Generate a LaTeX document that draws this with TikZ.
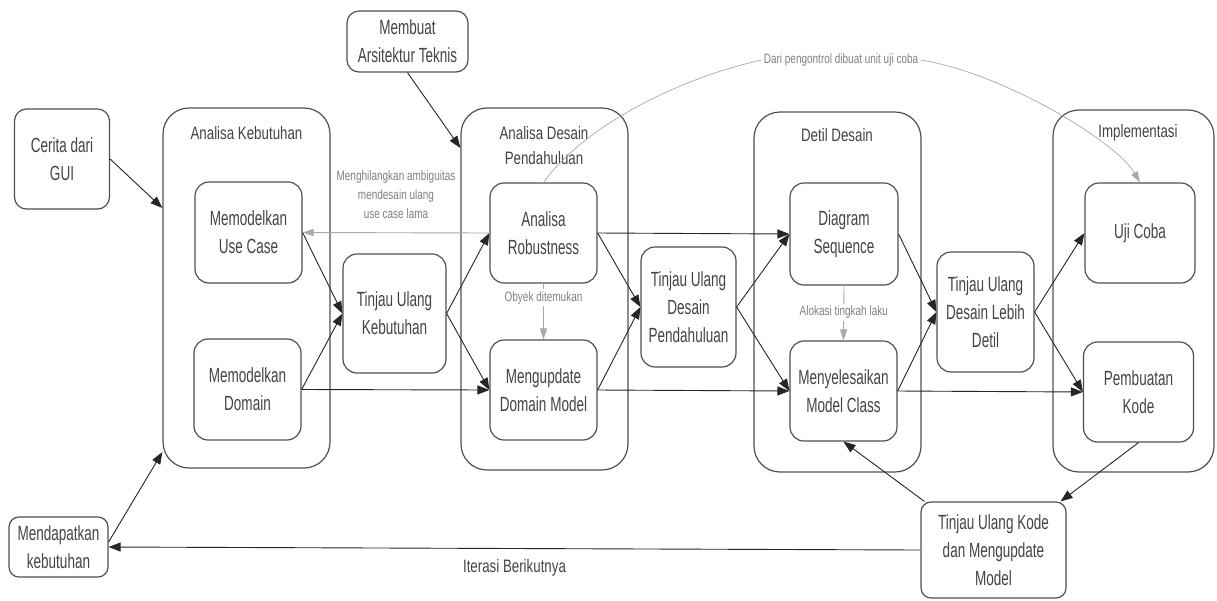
\documentclass[tikz,border=0pt]{standalone}
\usepackage{fontspec}
\setmainfont{Liberation Sans}[FakeStretch=0.74]
\newfontfamily\boxfont{Liberation Sans}[FakeStretch=0.66]
\usetikzlibrary{arrows.meta}
\definecolor{ink}{HTML}{444444}
\definecolor{edge}{HTML}{505050}
\definecolor{soft}{HTML}{A8A8A8}
\begin{document}
\begin{tikzpicture}[x=1pt,y=-1pt,
  every node/.style={text=ink},
  box/.style={draw=edge, line width=1.2pt, rounded corners=14pt, align=center,
    inner sep=0pt, font=\boxfont\fontsize{20.5}{28}\selectfont},
  lane/.style={draw=edge, line width=1.2pt, rounded corners=26pt, inner sep=0pt},
  lanetitle/.style={align=center, font=\fontsize{18}{25}\selectfont},
  flow/.style={-{Triangle[length=12pt,width=9pt]}, line width=0.9pt, draw=black!85},
  hint/.style={-{Triangle[length=11pt,width=7pt]}, line width=0.9pt, draw=soft},
  note/.style={font=\fontsize{13.5}{19}\selectfont, text=gray, align=center, inner sep=2pt},
]
\useasboundingbox (0,0) rectangle (1217,600);
\fill[white] (0,0) rectangle (1217,600);

% swim lanes
\node[lane, minimum width=167, minimum height=360] (AK) at (246.5,288) {};
\node[lane, minimum width=167, minimum height=362] (AD) at (544.5,289) {};
\node[lane, minimum width=167, minimum height=360] (DD) at (837.5,292) {};
\node[lane, minimum width=161, minimum height=362] (IM) at (1133.5,291) {};

\node[lanetitle] (AKt) at (246.5,133) {Analisa Kebutuhan};
\node[lanetitle] (ADt) at (544,146) {Analisa Desain\\Pendahuluan};
\node[lanetitle] (DDt) at (837,135) {Detil Desain};
\node[lanetitle] (IMt) at (1138,133) {Implementasi};

% outside activities
\node[box, rounded corners=12pt, minimum width=121, minimum height=61] (membuat) at (407.5,41.5) {Membuat\\Arsitektur Teknis};
\node[box, rounded corners=12pt, minimum width=95, minimum height=100] (cerita) at (62,159) {Cerita dari\\GUI};
\node[box, rounded corners=10pt, minimum width=99, minimum height=60] (dapat) at (58.5,547) {Mendapatkan\\kebutuhan};
\node[box, rounded corners=10pt, minimum width=145, minimum height=96] (tkode) at (993.5,550) {Tinjau Ulang Kode\\dan Mengupdate\\Model};

% activities inside the lanes
\node[box, minimum width=107, minimum height=101] (usecase) at (248.5,232.5) {Memodelkan\\Use Case};
\node[box, minimum width=107, minimum height=101] (domain) at (247.5,389.5) {Memodelkan\\Domain};
\node[box, minimum width=103, minimum height=119] (tkeb) at (394.5,313.5) {Tinjau Ulang\\Kebutuhan};
\node[box, minimum width=107, minimum height=100] (robust) at (543.5,233) {Analisa\\Robustness};
\node[box, minimum width=107, minimum height=100] (update) at (543.5,390) {Mengupdate\\Domain Model};
\node[box, minimum width=95, minimum height=120] (tdesain) at (688.5,307) {Tinjau Ulang\\Desain\\Pendahuluan};
\node[box, minimum width=108, minimum height=102] (seq) at (844,234) {Diagram\\Sequence};
\node[box, minimum width=107, minimum height=100] (kelas) at (843.5,391) {Menyelesaikan\\Model Class};
\node[box, minimum width=97, minimum height=120] (tdetil) at (985.5,312) {Tinjau Ulang\\Desain Lebih\\Detil};
\node[box, minimum width=110, minimum height=100] (uji) at (1140,233) {Uji Coba};
\node[box, minimum width=110, minimum height=100] (kode) at (1138.5,392) {Pembuatan\\Kode};

% inputs from outside
\draw[flow] (cerita.east) -- ([yshift=80pt]AK.west);
\draw[flow] (membuat.south) -- ([yshift=141pt]AD.west);
\draw[flow] ([yshift=5pt]dapat.east) -- ([yshift=-164pt]AK.west);

% requirements analysis
\draw[flow] (usecase.east) -- (tkeb.west);
\draw[flow] (domain.east) -- (tkeb.west);
\draw[flow] (tkeb.east) -- (robust.west);
\draw[flow] (tkeb.east) -- (update.west);
\draw[flow] (domain.east) -- (update.west);
\draw[hint] (robust.west) -- node[note, midway, anchor=south, yshift=12pt]
  {Menghilangkan ambiguitas\\mendesain ulang\\use case lama} (usecase.east);

% preliminary design
\draw[hint] (robust.south) -- node[note, fill=white, pos=0.25] {Obyek ditemukan} (update.north);
\draw[flow] (robust.east) -- (seq.west);
\draw[flow] (robust.east) -- (tdesain.west);
\draw[flow] (update.east) -- (tdesain.west);
\draw[flow] (update.east) -- (kelas.west);
\draw[flow] (tdesain.east) -- (seq.west);
\draw[flow] (tdesain.east) -- (kelas.west);

% detailed design
\draw[hint] (seq.south) -- node[note, fill=white, pos=0.49] {Alokasi tingkah laku} (kelas.north);
\draw[flow] (seq.east) -- (tdetil.west);
\draw[flow] (kelas.east) -- (tdetil.west);
\draw[flow] (tdetil.east) -- (uji.west);
\draw[flow] (tdetil.east) -- (kode.west);
\draw[flow] (kelas.east) -- (kode.west);

% code review loop
\draw[flow] (kode.south) -- ([xshift=-6pt]tkode.north east);
\draw[flow] ([xshift=4pt]tkode.north west) -- (kelas.south);
\draw[flow] (tkode.west) -- node[midway, yshift=-19pt, font=\fontsize{18}{22}\selectfont] {Iterasi Berikutnya} (dapat.east);

% controllers become unit tests
\node[note] (dari) at (841,60) {Dari pengontrol dibuat unit uji coba};
\draw[soft, line width=0.7pt] (robust.north) .. controls (585,125) and (680,78) .. (dari.west);
\draw[hint, line width=0.7pt] (dari.east) .. controls (1000,72) and (1115,140) .. (uji.north);
\end{tikzpicture}
\end{document}
